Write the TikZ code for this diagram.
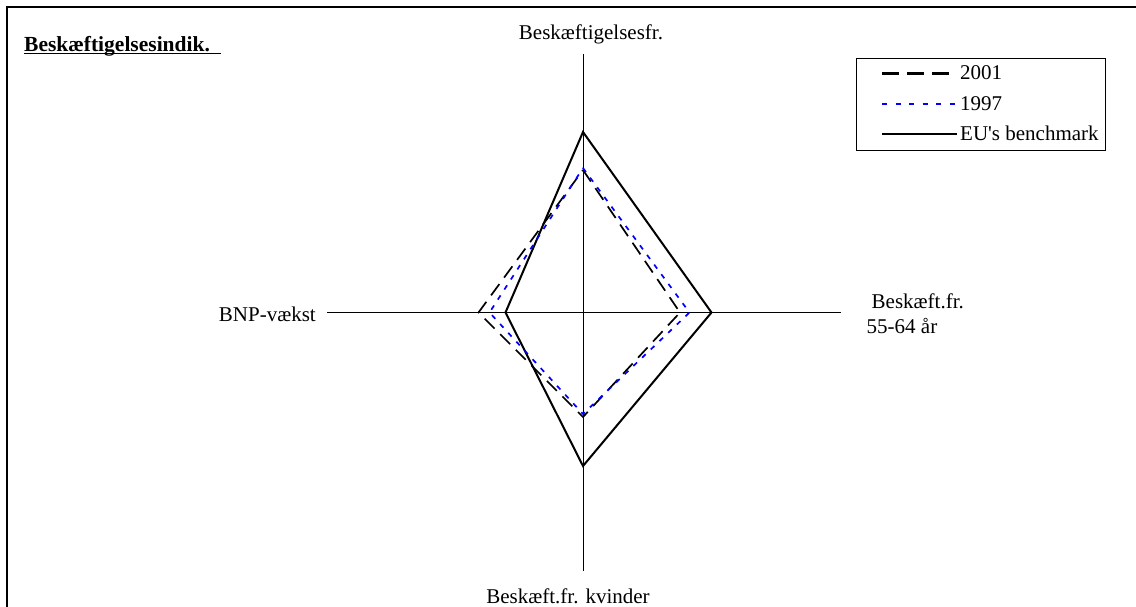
\documentclass[tikz,border=0pt]{standalone}
\usepackage{fontspec}
\setmainfont{Liberation Serif}
\newfontfamily\plainserif[Ligatures=ResetAll]{Liberation Serif}
\begin{document}
\begin{tikzpicture}[x=1pt,y=-1pt,
  lbl/.style={font=\fontsize{21}{24}\selectfont, inner sep=0pt},
  axisline/.style={line width=1pt, black},
  eu/.style={line width=2pt, black, line join=miter},
  y2001/.style={line width=1.7pt, black, dash pattern=on 14pt off 8pt},
  y1997/.style={line width=1.7pt, blue, dash pattern=on 5pt off 7pt}]
\useasboundingbox (0,0) rectangle (1136,607);
% frame
\draw[line width=1.3pt] (7,615) -- (7,7) -- (1145,7);
% title
\node[lbl, anchor=base west, font=\fontsize{21.5}{24}\selectfont\bfseries] (title) at (24,52) {Beskæftigelsesindik.};
\draw[line width=1.8pt] (24,53.5) -- (221,53.5);
% axes
\coordinate (c) at (583,312.5);
\coordinate (atop) at (583,54);
\coordinate (abot) at (583,571);
\coordinate (aleft) at (327,312.5);
\coordinate (aright) at (841,312.5);
\draw[axisline] (atop) -- (abot);
\draw[axisline] (aleft) -- (aright);
% axis labels
\node[lbl, anchor=base] (ltop) at (591,39.3) {Beskæftigelsesfr.};
\node[lbl, anchor=base] (lbot) at (568,603) {Beskæft.fr. kvinder};
\node[lbl, anchor=base east] (lleft) at (316,321) {BNP-vækst};
\node[lbl, anchor=base west] (lright1) at (871.5,308) {Beskæft.fr.};
\node[lbl, anchor=base west] (lright2) at (866.5,333) {55-64 år};
% EU benchmark
\coordinate (et) at (583,132);
\coordinate (er) at (711.5,312.5);
\coordinate (eb) at (583,466);
\coordinate (el) at (505.5,312.5);
\draw[eu] (et) -- (er) -- (eb) -- (el) -- cycle;
% 2001
\coordinate (dt) at (583,170);
\coordinate (dr) at (680,312.5);
\coordinate (db) at (583,417);
\coordinate (dl) at (478.5,312.5);
\draw[y2001] (dt) -- (dr) -- (db) -- (dl) -- cycle;
% 1997
\coordinate (bt) at (583,168);
\coordinate (br) at (689.5,312.5);
\coordinate (bb) at (583,414);
\coordinate (bl) at (489.5,312.5);
\draw[y1997] (bt) -- (br) -- (bb) -- (bl) -- cycle;
% legend
\node[draw, line width=1.2pt, minimum width=249pt, minimum height=92pt, inner sep=0pt, anchor=north west] (legend) at (856,58) {};
\coordinate (l1a) at (882,73.5);
\coordinate (l1b) at (950,73.5);
\coordinate (l2a) at (882,104);
\coordinate (l2b) at (957,104);
\coordinate (l3a) at (882,134.5);
\coordinate (l3b) at (957,134.5);
\draw[black, line width=2.6pt, dash pattern=on 17pt off 8pt] (l1a) -- (l1b);
\draw[blue, line width=2.6pt, dash pattern=on 5pt off 8.5pt] (l2a) -- (l2b);
\draw[black, line width=2pt] (l3a) -- (l3b);
\node[lbl, anchor=base west] (t2001) at (960,80) {2001};
\node[lbl, anchor=base west] (t1997) at (960,110.5) {1997};
\node[lbl, anchor=base west, font=\fontsize{21}{24}\plainserif] (teu) at (960,141) {EU's benchmark};
\end{tikzpicture}
\end{document}
